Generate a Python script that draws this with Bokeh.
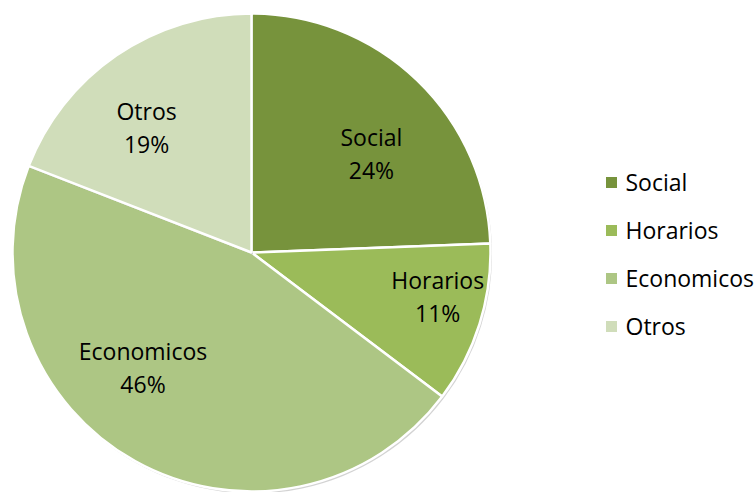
import math
from bokeh.plotting import figure
from bokeh.models import Range1d
from bokeh.core.properties import value
from bokeh.embed import file_html
from bokeh.resources import INLINE

# ---- data ----
categories = ["Social", "Horarios", "Economicos", "Otros"]
shares = [24.4, 10.9, 45.6, 19.1]
colors = ["#77933C", "#9BBB59", "#ADC684", "#D0DDBA"]

# ---- layout (page pixels, y measured upward from window bottom) ----
W, H = 756, 492
CX, CY, R = 251, 240, 239
label_nudge_deg = [-6.3, 4.3, -14.3, 5.4]
label_rfrac = [0.653, 0.80, 0.66, 0.686]
FONT = value("Open Sans")
FS = "23px"

p = figure(width=W, height=H, output_backend="svg", toolbar_location=None,
           x_range=Range1d(0, W), y_range=Range1d(0, H),
           min_border=0)
p.axis.visible = False
p.grid.visible = False
p.outline_line_color = None
p.background_fill_color = "white"
p.border_fill_color = "white"

total = sum(shares)
start = 90.0
for cat, s, c, nud, rf in zip(categories, shares, colors, label_nudge_deg, label_rfrac):
    sweep = s / total * 360.0
    end = start - sweep
    a0, a1 = math.radians(start), math.radians(end)
    # shadow
    p.wedge(x=[CX + 1.5], y=[CY - 2], radius=R, start_angle=[a0], end_angle=[a1],
            direction="clock", fill_color="#808080", fill_alpha=0.35, line_color=None)
    p.wedge(x=[CX], y=[CY], radius=R, start_angle=[a0], end_angle=[a1],
            direction="clock", fill_color=c, line_color="white", line_width=2.5)
    mid = math.radians((start + end) / 2 + nud)
    lx = CX + rf * R * math.cos(mid)
    ly = CY + rf * R * math.sin(mid)
    pct = f"{round(s / total * 100)}%"
    p.text(x=[lx, lx], y=[ly + 16, ly - 17], text=[cat, pct], text_align="center",
           text_baseline="alphabetic", text_font=FONT, text_font_size=FS,
           text_color="#000000")
    start = end

# legend
LX_MARK, LX_TEXT, LY0, LSTEP = 611, 625, 304, 48
ys = [LY0 - i * LSTEP for i in range(len(categories))]
p.scatter(x=[LX_MARK] * len(categories), y=[y + 6 for y in ys], marker="square",
          size=11, fill_color=colors, line_color=None)
p.text(x=[LX_TEXT] * len(categories), y=[y + 7 for y in ys], text=categories,
       text_align="left", text_baseline="alphabetic", text_font=FONT,
       text_font_size=FS, text_color="#000000")

open("out.html", "w").write(file_html(p, INLINE))
